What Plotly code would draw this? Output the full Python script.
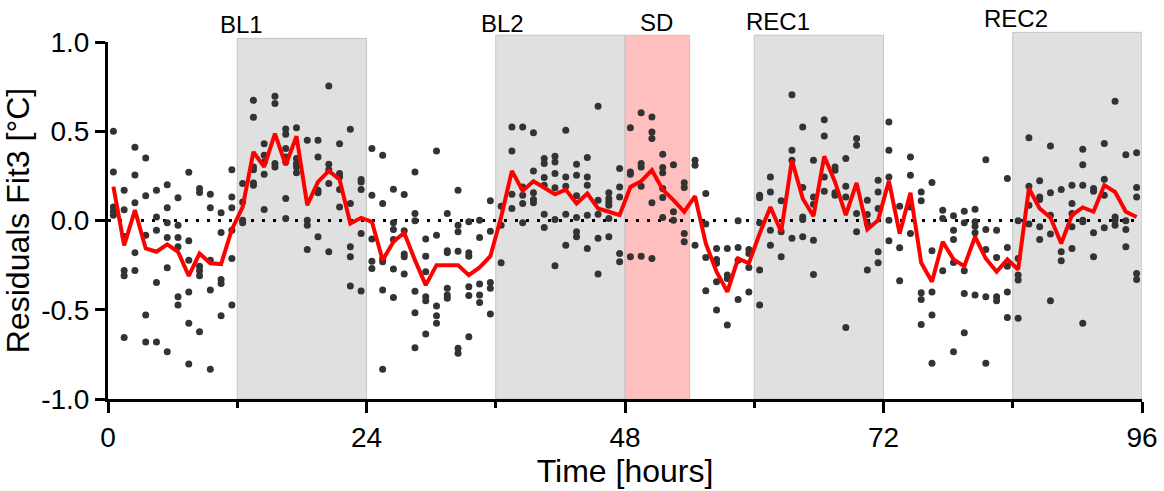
import plotly.graph_objects as go

# ---- data ----
hours = [h + 0.5 for h in range(96)]

mean_residual = [
    0.19, -0.14, 0.058, -0.157, -0.175, -0.134, -0.175, -0.31, -0.185, -0.24,
    -0.244, -0.05, 0.075, 0.384, 0.3, 0.487, 0.31, 0.472, 0.086, 0.216,
    0.278, 0.23, -0.017, 0.015, -0.007, -0.222, -0.119, -0.069, -0.222, -0.362,
    -0.25, -0.25, -0.25, -0.306, -0.263, -0.2, 0.02, 0.278, 0.166, 0.22,
    0.185, 0.147, 0.173, 0.095, 0.151, 0.067, 0.049, 0.03, 0.188, 0.22,
    0.282, 0.173, 0.114, 0.049, 0.136, -0.129, -0.287, -0.4, -0.213, -0.24,
    -0.073, 0.076, -0.063, 0.338, 0.123, 0.024, 0.36, 0.216, 0.03, 0.211,
    -0.05, 0.002, 0.222, -0.073, 0.155, -0.237, -0.343, -0.119, -0.218, -0.256,
    -0.091, -0.213, -0.287, -0.218, -0.274, 0.179, 0.067, 0.017, -0.129, 0.03,
    0.073, 0.049, 0.198, 0.16, 0.049, 0.02,
]

residual_points = [
    [0.5, 0.272, 0.076, 0.05, 0.03],
    [0.17, 0.06, -0.09, -0.28, -0.31, -0.655],
    [0.41, 0.255, 0.1, -0.18, -0.28],
    [0.35, 0.138, -0.082, -0.53, -0.68],
    [0.17, 0.02, -0.054, -0.347, -0.68],
    [0.2, 0.071, -0.013, -0.095, -0.265, -0.735],
    [0.127, -0.026, -0.095, -0.147, -0.427, -0.474],
    [0.27, -0.114, -0.222, -0.4, -0.576, -0.804],
    [0.179, 0.157, -0.256, -0.282, -0.31, -0.623],
    [0.147, 0.071, -0.222, -0.39, -0.834],
    [0.043, -0.067, -0.33, -0.353, -0.534],
    [0.285, 0.132, 0.071, -0.054, -0.213, -0.474],
    [0.207, 0.104, 0.002, -0.013],
    [0.673, 0.578, 0.3, 0.285, 0.21, 0.198],
    [0.43, 0.366, 0.328, 0.259, 0.062],
    [0.696, 0.655, 0.319, 0.3],
    [0.513, 0.483, 0.403, 0.356, 0.328, 0.123, 0.011],
    [0.519, 0.347, 0.319, 0.3, 0.267],
    [0.45, 0.002, -0.026, -0.162],
    [0.45, 0.356, 0.17, 0.155, -0.091],
    [0.753, 0.315, 0.285, 0.207, -0.175],
    [0.43, 0.263, 0.244, 0.173, 0.076],
    [0.511, 0.095, -0.147, -0.203, -0.367],
    [0.23, 0.216, 0.173, -0.073, -0.395],
    [0.403, 0.142, -0.104, -0.228, -0.269],
    [0.366, 0.095, -0.213, -0.231, -0.39, -0.834],
    [0.175, -0.013, -0.05, -0.106, -0.272, -0.431],
    [0.146, -0.058, -0.188, -0.203, -0.3],
    [0.272, 0.039, -0.002, -0.396, -0.517, -0.713],
    [-0.104, -0.2, -0.287, -0.427, -0.45, -0.636],
    [0.39, -0.082, -0.479, -0.534, -0.576],
    [0.039, -0.17, -0.18, -0.38, -0.418, -0.436],
    [0.17, -0.026, -0.063, -0.172, -0.716, -0.744],
    [-0.007, -0.18, -0.2, -0.371, -0.42, -0.651],
    [0.002, -0.095, -0.356, -0.418, -0.46],
    [0.11, -0.06, -0.347, -0.38, -0.524],
    [0.08, -0.026, -0.237],
    [0.524, 0.39, 0.147, 0.067],
    [0.524, 0.188, 0.142, 0.095, -0.013],
    [0.492, 0.278, 0.155, 0.118, 0.099],
    [0.347, 0.319, 0.241, 0.198, 0.035, -0.039],
    [0.36, 0.328, 0.263, 0.183, 0.006, -0.254],
    [0.506, 0.244, 0.192, 0.035, -0.138],
    [0.315, 0.254, 0.138, 0.017, -0.063, -0.091],
    [0.353, 0.244, 0.198, 0.03, -0.157],
    [0.64, 0.114, 0.035, -0.1, -0.3],
    [0.155, 0.123, 0.104, 0.086, 0.011, -0.091],
    [0.291, 0.188, 0.132, -0.185, -0.231],
    [0.519, 0.272, 0.259, -0.203],
    [0.604, 0.319, 0.3, 0.192, -0.2],
    [0.58, 0.496, 0.459, 0.099, -0.213],
    [0.371, 0.297, 0.267, 0.179, 0.129, 0.017],
    [0.313, 0.049, 0.002],
    [0.211, 0.185, -0.073, -0.119],
    [0.338, 0.31, -0.138],
    [0.151, -0.02, -0.207, -0.394],
    [-0.157, -0.218, -0.24, -0.343, -0.502],
    [-0.157, -0.306, -0.325, -0.586],
    [-0.002, -0.151, -0.222, -0.442],
    [-0.162, -0.185, -0.263, -0.4],
    [0.142, 0.127, -0.013, -0.278, -0.474],
    [0.244, 0.16, -0.054, -0.138],
    [0.11, -0.063, -0.203],
    [0.705, 0.394, 0.338, -0.1],
    [0.524, 0.185, 0.02, 0.006, -0.091],
    [0.338, 0.132, 0.091, -0.11, -0.302],
    [0.565, 0.474, 0.244, 0.164],
    [0.3, 0.282, 0.155, 0.142],
    [0.347, 0.192, 0.132, -0.599],
    [0.459, 0.422, 0.039, -0.063],
    [0.114, 0.034, -0.017, -0.278],
    [0.226, 0.16, 0.067, -0.175, -0.237],
    [0.552, 0.394, 0.244, 0.002, -0.114],
    [0.08, -0.153, -0.338],
    [0.356, 0.254, 0.076, -0.073],
    [0.16, 0.11, -0.405, -0.442, -0.582],
    [0.213, -0.17, -0.4, -0.53, -0.8],
    [0.058, 0.011, -0.282],
    [0.026, -0.054, -0.106, -0.235, -0.735],
    [0.052, -0.013, -0.282, -0.409, -0.629],
    [0.063, -0.007, -0.032, -0.069, -0.418],
    [0.341, -0.05, -0.162, -0.427, -0.8],
    [-0.054, -0.207, -0.427, -0.45],
    [0.235, -0.151, -0.256, -0.4, -0.543],
    [-0.002, -0.213, -0.306, -0.334, -0.548],
    [0.464, 0.192, 0.086, -0.02],
    [0.222, 0.132, 0.118, -0.035, -0.106],
    [0.418, 0.155, 0.03, -0.076, -0.45],
    [0.173, -0.175, -0.226],
    [0.198, 0.095, 0.039, -0.035, -0.157],
    [0.399, 0.313, 0.198, 0.002, -0.007, -0.576],
    [0.179, 0.164, -0.069, -0.203],
    [0.431, 0.231, 0.142, -0.041],
    [0.668, 0.02, 0.002, -0.026],
    [0.369, -0.002, -0.05, -0.147],
    [0.38, 0.185, 0.132, -0.297, -0.33],
]

phase_labels = ["BL1", "BL2", "SD", "REC1", "REC2"]
phase_start = [12, 36, 48, 60, 84]
phase_end = [24, 48, 54, 72, 96]
phase_colors = ["#e0e0e0", "#e0e0e0", "#ffbfbf", "#e0e0e0", "#e0e0e0"]
phase_top = [1.010, 1.019, 1.019, 1.019, 1.027]
label_x = [12.4, 36.6, 50.9, 62.2, 84.3]
label_y = [1.049, 1.052, 1.055, 1.058, 1.066]

x_ticks = [0, 24, 48, 72, 96]
y_ticks = [-1.0, -0.5, 0.0, 0.5, 1.0]
y_ticktext = ["-1.0", "-0.5", "0.0", "0.5", "1.0"]

FONT = "Liberation Sans, Arial, sans-serif"

# ---- figure ----
sx, sy = [], []
for h, vals in zip(hours, residual_points):
    for v in vals:
        sx.append(h)
        sy.append(v)

fig = go.Figure()
fig.add_trace(go.Scatter(x=sx, y=sy, mode="markers",
                         marker=dict(size=7, color="#333333"),
                         showlegend=False, hoverinfo="skip"))
fig.add_trace(go.Scatter(x=hours, y=mean_residual, mode="lines",
                         line=dict(color="#ff0000", width=4),
                         showlegend=False))

shapes = []
for s, e, c, t in zip(phase_start, phase_end, phase_colors, phase_top):
    shapes.append(dict(type="rect", xref="x", yref="paper", x0=s, x1=e, y0=0, y1=t,
                       fillcolor=c, line=dict(color="#c4c4c4", width=1), layer="below"))
shapes.append(dict(type="line", xref="x", yref="y", x0=0, x1=96, y0=0, y1=0,
                   line=dict(color="black", width=3, dash="3px,8px"), layer="below"))

annotations = []
for txt, lx, ly in zip(phase_labels, label_x, label_y):
    annotations.append(dict(text=txt, x=lx, y=ly, xref="x", yref="paper",
                            showarrow=False, xanchor="center", yanchor="middle",
                            font=dict(family=FONT, size=24, color="black")))

fig.update_layout(
    width=1164, height=491, autosize=False,
    margin=dict(l=108, r=22, t=42, b=92),
    paper_bgcolor="white", plot_bgcolor="white",
    shapes=shapes, annotations=annotations,
    font=dict(family=FONT, color="black"),
    xaxis=dict(range=[0, 96], tickvals=x_ticks, ticks="outside", ticklen=11,
               tickwidth=2.5, tickcolor="black", showline=True, linewidth=3,
               linecolor="black", showgrid=False, zeroline=False, automargin=False,
               tickfont=dict(family=FONT, size=28, color="black"),
               minor=dict(tickvals=[12, 36, 60, 84], ticks="outside", ticklen=6,
                          tickwidth=2.5, tickcolor="black"),
               title=dict(text="Time [hours]", font=dict(family=FONT, size=32, color="black"),
                          standoff=6)),
    yaxis=dict(range=[-1, 1], tickvals=y_ticks, ticktext=y_ticktext, ticks="outside",
               ticklen=10, tickwidth=2.5, tickcolor="black", showline=True, linewidth=3,
               linecolor="black", showgrid=False, zeroline=False, automargin=False,
               tickfont=dict(family=FONT, size=28, color="black"),
               title=dict(text="Residuals Fit3 [°C]", font=dict(family=FONT, size=32, color="black"),
                          standoff=2)),
)

fig.write_html("out.html")
